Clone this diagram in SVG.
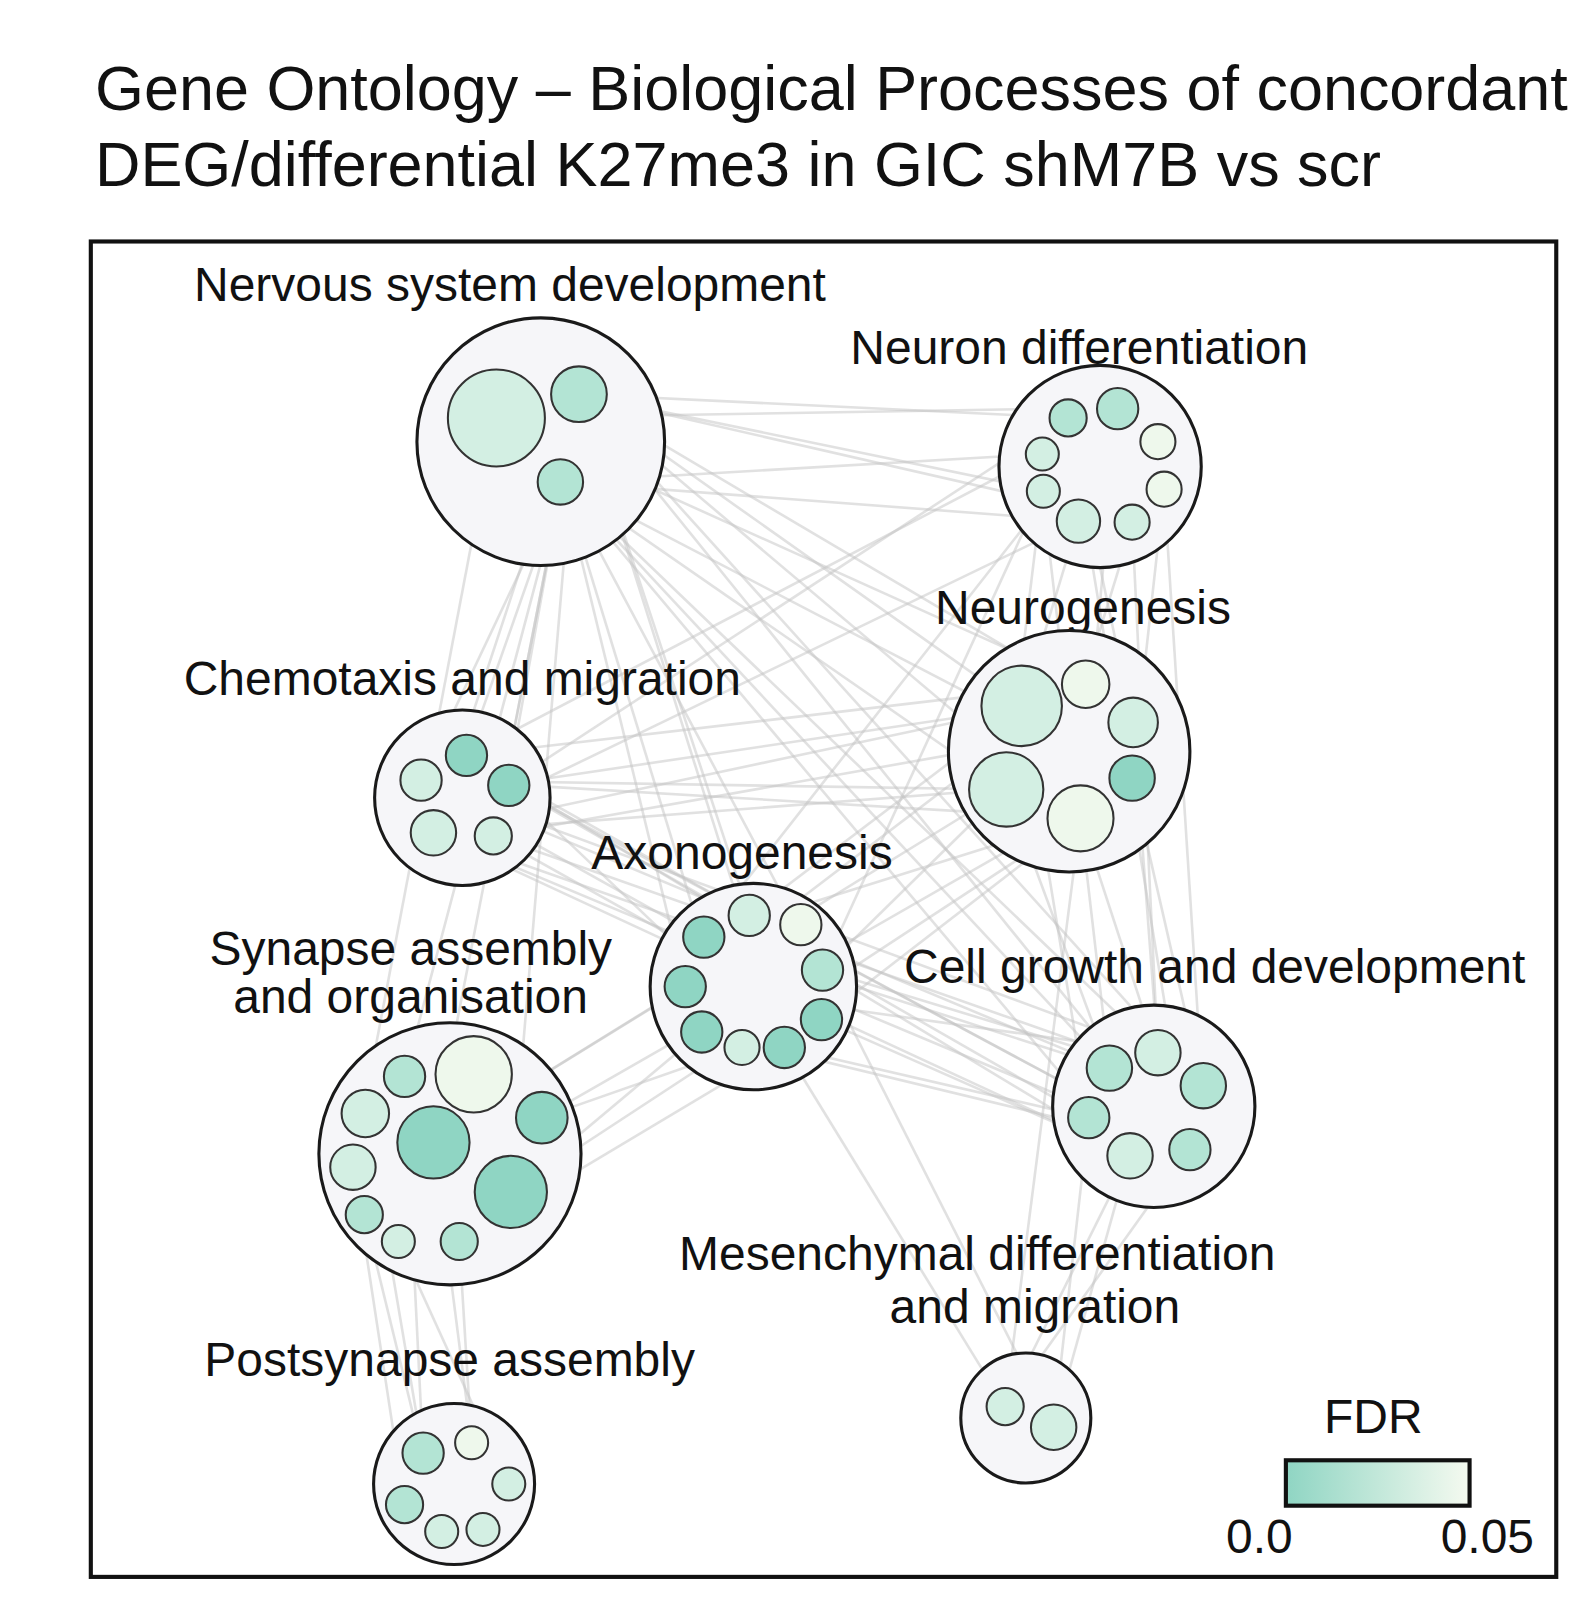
<svg xmlns="http://www.w3.org/2000/svg" width="1579" height="1614" viewBox="0 0 1579 1614">
<style>
.t{font-family:"Liberation Sans",Arial,sans-serif;fill:#111}
.lb{font-size:46.5px}
.ttl{font-size:61px}
.cl{fill:#f6f6f9;stroke:#1a1a1a;stroke-width:3}
.n{stroke:#333;stroke-width:2}
.d{fill:#8fd5c3}.m{fill:#b3e4d4}.l{fill:#d3efe3}.v{fill:#eef8ec}
.e line{stroke:#c4c4c4;stroke-width:2.5;opacity:.5}
</style>
<defs><linearGradient id="g"><stop offset="0" stop-color="#8fd5c3"/><stop offset="1" stop-color="#f5faf0"/></linearGradient></defs>
<rect width="1579" height="1614" fill="#fff"/>
<g transform="scale(1.032)">
<text class="t ttl" x="92" y="107">Gene Ontology – Biological Processes of concordant</text>
<text class="t ttl" x="92" y="180">DEG/differential K27me3 in GIC shM7B vs scr</text>
<rect x="88" y="234" width="1420" height="1294" fill="#fff" stroke="#111" stroke-width="4"/>
<g id="connectors" class="e">
<line x1="560" y1="382" x2="1040" y2="405"/><line x1="560" y1="382" x2="1010" y2="475"/><line x1="545" y1="467" x2="1050" y2="505"/>
<line x1="480" y1="405" x2="1080" y2="395"/><line x1="560" y1="382" x2="1098" y2="505"/><line x1="545" y1="467" x2="1010" y2="440"/>
<line x1="560" y1="382" x2="990" y2="686"/><line x1="545" y1="467" x2="975" y2="765"/><line x1="560" y1="382" x2="1098" y2="700"/><line x1="545" y1="467" x2="1098" y2="755"/>
<line x1="480" y1="405" x2="1050" y2="662"/><line x1="560" y1="382" x2="1047" y2="793"/>
<line x1="545" y1="467" x2="452" y2="732"/><line x1="560" y1="382" x2="492" y2="760"/><line x1="545" y1="467" x2="408" y2="756"/><line x1="560" y1="382" x2="420" y2="807"/><line x1="545" y1="467" x2="478" y2="810"/>
<line x1="545" y1="467" x2="680" y2="908"/><line x1="560" y1="382" x2="726" y2="886"/><line x1="545" y1="467" x2="797" y2="940"/><line x1="560" y1="382" x2="760" y2="1015"/><line x1="545" y1="467" x2="664" y2="956"/>
<line x1="545" y1="467" x2="1075" y2="1035"/><line x1="560" y1="382" x2="1152" y2="1114"/><line x1="545" y1="467" x2="1095" y2="1120"/><line x1="560" y1="382" x2="1165" y2="1052"/><line x1="545" y1="467" x2="1122" y2="1020"/>
<line x1="545" y1="467" x2="420" y2="1107"/><line x1="560" y1="382" x2="495" y2="1155"/><line x1="480" y1="405" x2="342" y2="1130"/><line x1="545" y1="467" x2="392" y2="1043"/>
<line x1="1035" y1="405" x2="1098" y2="700"/><line x1="1083" y1="395" x2="1047" y2="793"/><line x1="1010" y1="475" x2="975" y2="765"/><line x1="1128" y1="474" x2="1097" y2="755"/><line x1="1045" y1="505" x2="990" y2="686"/><line x1="1122" y1="428" x2="1050" y2="662"/>
<line x1="1035" y1="405" x2="1152" y2="1114"/><line x1="1128" y1="474" x2="1165" y2="1052"/><line x1="1097" y1="505" x2="1122" y2="1020"/><line x1="1010" y1="475" x2="1075" y2="1035"/>
<line x1="1010" y1="440" x2="452" y2="732"/><line x1="1035" y1="405" x2="492" y2="760"/><line x1="1045" y1="505" x2="420" y2="807"/><line x1="1083" y1="395" x2="680" y2="908"/><line x1="1010" y1="475" x2="797" y2="940"/>
<line x1="990" y1="686" x2="492" y2="760"/><line x1="975" y1="765" x2="408" y2="756"/><line x1="1050" y1="662" x2="452" y2="732"/><line x1="1098" y1="700" x2="478" y2="810"/><line x1="1097" y1="755" x2="420" y2="807"/><line x1="1047" y1="793" x2="492" y2="760"/><line x1="990" y1="686" x2="420" y2="807"/>
<line x1="990" y1="686" x2="726" y2="886"/><line x1="975" y1="765" x2="797" y2="940"/><line x1="1047" y1="793" x2="680" y2="908"/><line x1="1097" y1="755" x2="760" y2="1015"/><line x1="1050" y1="662" x2="664" y2="956"/>
<line x1="975" y1="765" x2="1075" y2="1035"/><line x1="1047" y1="793" x2="1152" y2="1114"/><line x1="1097" y1="755" x2="1165" y2="1052"/><line x1="1098" y1="700" x2="1122" y2="1020"/><line x1="990" y1="686" x2="1055" y2="1083"/>
<line x1="975" y1="765" x2="420" y2="1107"/><line x1="1047" y1="793" x2="495" y2="1155"/><line x1="1097" y1="755" x2="525" y2="1083"/>
<line x1="408" y1="756" x2="1075" y2="1035"/><line x1="420" y1="807" x2="1152" y2="1114"/><line x1="452" y1="732" x2="1095" y2="1120"/><line x1="492" y1="760" x2="1055" y2="1083"/><line x1="478" y1="810" x2="1165" y2="1052"/><line x1="408" y1="756" x2="1122" y2="1020"/><line x1="420" y1="807" x2="1095" y2="1120"/><line x1="492" y1="760" x2="1152" y2="1114"/>
<line x1="408" y1="756" x2="680" y2="908"/><line x1="420" y1="807" x2="797" y2="940"/><line x1="492" y1="760" x2="760" y2="1015"/><line x1="452" y1="732" x2="726" y2="886"/><line x1="478" y1="810" x2="796" y2="988"/>
<line x1="680" y1="908" x2="1075" y2="1035"/><line x1="726" y1="886" x2="1152" y2="1114"/><line x1="797" y1="940" x2="1165" y2="1052"/><line x1="796" y1="988" x2="1095" y2="1120"/><line x1="760" y1="1015" x2="1055" y2="1083"/><line x1="664" y1="956" x2="1122" y2="1020"/><line x1="680" y1="1000" x2="1152" y2="1114"/>
<line x1="680" y1="908" x2="797" y2="940"/><line x1="664" y1="956" x2="796" y2="988"/><line x1="726" y1="886" x2="719" y2="1015"/><line x1="776" y1="896" x2="680" y2="1000"/>
<line x1="664" y1="956" x2="420" y2="1107"/><line x1="680" y1="1000" x2="495" y2="1155"/><line x1="719" y1="1015" x2="525" y2="1083"/><line x1="760" y1="1015" x2="445" y2="1203"/>
<line x1="392" y1="1043" x2="410" y2="1408"/><line x1="342" y1="1130" x2="392" y2="1458"/><line x1="353" y1="1177" x2="428" y2="1484"/><line x1="420" y1="1107" x2="468" y2="1482"/><line x1="386" y1="1203" x2="493" y2="1438"/><line x1="445" y1="1203" x2="457" y2="1398"/><line x1="354" y1="1078" x2="410" y2="1408"/>
<line x1="1095" y1="1120" x2="974" y2="1363"/><line x1="1055" y1="1083" x2="1021" y2="1382"/><line x1="1152" y1="1114" x2="974" y2="1363"/><line x1="760" y1="1015" x2="974" y2="1363"/><line x1="797" y1="940" x2="1021" y2="1382"/><line x1="1047" y1="793" x2="974" y2="1363"/><line x1="1122" y1="1020" x2="1021" y2="1382"/>
<line x1="1010" y1="440" x2="1128" y2="474"/><line x1="1035" y1="405" x2="1097" y2="505"/><line x1="1083" y1="395" x2="1045" y2="505"/>
<line x1="975" y1="765" x2="1098" y2="700"/><line x1="990" y1="686" x2="1097" y2="755"/>
</g>
<g id="nsd"><text class="t lb" x="188" y="292">Nervous system development</text><circle class="cl" cx="524" cy="428" r="120"/><circle class="n l" cx="481" cy="405" r="47"/><circle class="n m" cx="561" cy="382" r="27"/><circle class="n m" cx="543" cy="467" r="22"/></g>
<g id="neuron"><text class="t lb" x="824" y="353">Neuron differentiation</text><circle class="cl" cx="1066" cy="452" r="98"/>
<circle class="n m" cx="1035" cy="405" r="18"/><circle class="n m" cx="1083" cy="396" r="20"/><circle class="n v" cx="1122" cy="428" r="17"/><circle class="n l" cx="1010" cy="440" r="16"/><circle class="n v" cx="1128" cy="474" r="17"/><circle class="n l" cx="1011" cy="476" r="16"/><circle class="n l" cx="1045" cy="505" r="21"/><circle class="n l" cx="1097" cy="506" r="17"/></g>
<g id="neurogenesis"><text class="t lb" x="906" y="605">Neurogenesis</text><circle class="cl" cx="1036" cy="728" r="117"/>
<circle class="n l" cx="990" cy="684" r="39"/><circle class="n v" cx="1052" cy="663" r="23"/><circle class="n l" cx="1098" cy="700" r="24"/><circle class="n d" cx="1097" cy="754" r="22"/><circle class="n l" cx="975" cy="765" r="36"/><circle class="n v" cx="1047" cy="793" r="32"/></g>
<g id="chemo"><text class="t lb" x="178" y="673">Chemotaxis and migration</text><circle class="cl" cx="448" cy="773" r="85"/>
<circle class="n d" cx="452" cy="732" r="20"/><circle class="n l" cx="408" cy="756" r="20"/><circle class="n d" cx="493" cy="761" r="20"/><circle class="n l" cx="420" cy="807" r="22"/><circle class="n l" cx="478" cy="810" r="18"/></g>
<g id="axono"><text class="t lb" x="573" y="842">Axonogenesis</text><circle class="cl" cx="730" cy="956" r="100"/>
<circle class="n l" cx="726" cy="887" r="20"/><circle class="n v" cx="776" cy="896" r="20"/><circle class="n d" cx="682" cy="908" r="20"/><circle class="n m" cx="797" cy="940" r="20"/><circle class="n d" cx="664" cy="956" r="20"/><circle class="n d" cx="796" cy="988" r="20"/><circle class="n d" cx="680" cy="1000" r="20"/><circle class="n l" cx="719" cy="1015" r="17"/><circle class="n d" cx="760" cy="1015" r="20"/></g>
<g id="synapse"><text class="t lb" x="203" y="935">Synapse assembly</text><text class="t lb" x="226" y="982">and organisation</text><circle class="cl" cx="436" cy="1118" r="127"/>
<circle class="n m" cx="392" cy="1043" r="20"/><circle class="n v" cx="459" cy="1041" r="37"/><circle class="n l" cx="354" cy="1079" r="23"/><circle class="n d" cx="420" cy="1107" r="35"/><circle class="n d" cx="525" cy="1083" r="25"/><circle class="n l" cx="342" cy="1131" r="22"/><circle class="n d" cx="495" cy="1155" r="35"/><circle class="n m" cx="353" cy="1177" r="18"/><circle class="n l" cx="386" cy="1203" r="16"/><circle class="n m" cx="445" cy="1203" r="18"/></g>
<g id="cellgrowth"><text class="t lb" x="876" y="953">Cell growth and development</text><circle class="cl" cx="1118" cy="1072" r="98"/>
<circle class="n m" cx="1075" cy="1035" r="22"/><circle class="n l" cx="1122" cy="1020" r="22"/><circle class="n m" cx="1166" cy="1052" r="22"/><circle class="n m" cx="1055" cy="1083" r="20"/><circle class="n l" cx="1095" cy="1120" r="22"/><circle class="n m" cx="1153" cy="1114" r="20"/></g>
<g id="mesench"><text class="t lb" x="658" y="1231">Mesenchymal differentiation</text><text class="t lb" x="862" y="1282">and migration</text><circle class="cl" cx="994" cy="1374" r="63"/>
<circle class="n l" cx="974" cy="1363" r="18"/><circle class="n l" cx="1021" cy="1383" r="22"/></g>
<g id="postsyn"><text class="t lb" x="198" y="1333">Postsynapse assembly</text><circle class="cl" cx="440" cy="1438" r="78"/>
<circle class="n m" cx="410" cy="1408" r="20"/><circle class="n v" cx="457" cy="1398" r="16"/><circle class="n l" cx="493" cy="1438" r="16"/><circle class="n m" cx="392" cy="1458" r="18"/><circle class="n l" cx="428" cy="1484" r="16"/><circle class="n l" cx="468" cy="1482" r="16"/></g>
<g id="legend"><text class="t lb" x="1283" y="1389">FDR</text><rect x="1246" y="1415" width="178" height="44" fill="url(#g)" stroke="#111" stroke-width="4"/><text class="t lb" x="1188" y="1505">0.0</text><text class="t lb" x="1396" y="1505">0.05</text></g>
</g>
</svg>
